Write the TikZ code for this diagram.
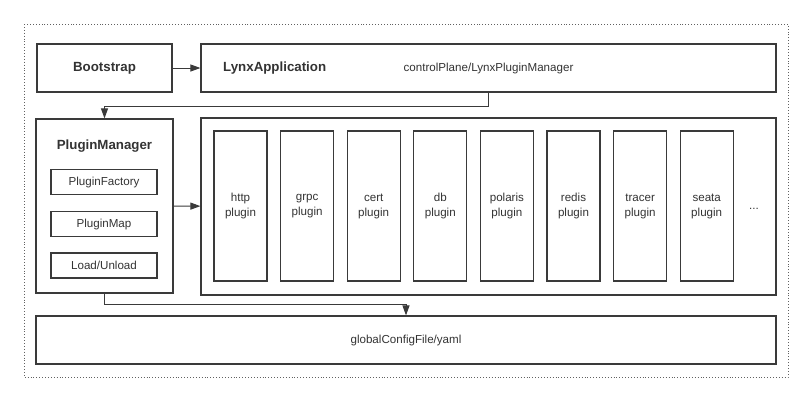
\documentclass[tikz,border=0pt]{standalone}
\usepackage{fontspec}
\setmainfont{Liberation Sans}
\usepackage{tikz}
\usetikzlibrary{arrows.meta,calc}
\definecolor{linegray}{HTML}{3A3A3A}
\definecolor{textgray}{HTML}{333333}
\tikzstyle{box}=[draw=linegray,line width=1.15pt,minimum height=48pt,inner sep=0pt,text=textgray,font=\fontsize{11.6}{13}\selectfont]
\tikzstyle{smallbox}=[draw=linegray,line width=1.15pt,minimum width=106pt,minimum height=25pt,inner sep=0pt,text=textgray,font=\fontsize{11.6}{13}\selectfont]
\tikzstyle{pluginbox}=[draw=linegray,line width=1.15pt,minimum width=53pt,minimum height=150pt,inner sep=0pt,align=center,text=textgray,font=\fontsize{11.6}{15}\selectfont]
\tikzstyle{title}=[text=textgray,inner sep=0pt,font=\fontsize{13.3}{15}\selectfont\bfseries]
\tikzstyle{edge} = [draw=linegray,line width=1pt,-{Triangle[length=10pt,width=7pt]}]

\begin{document}
\begin{tikzpicture}[x=1pt,y=-1pt]

    \useasboundingbox (0,0) rectangle (812,405);
    \draw[linegray!80,dotted,line width=0.9pt] (24,24) rectangle (788,377);

    \node[box, minimum width=135pt] (boot) at (104.5,68) {};
    \node[title] (bootlabel) at (boot.center) {Bootstrap};
    \node[box, minimum width=575pt] (app) at (488.5,68) {controlPlane/LynxPluginManager};
    \node[title, anchor=west] (lynx) at (223,68) {LynxApplication};

    \node[box, minimum width=137pt, minimum height=174pt] (pm) at (104.5,206) {};
    \node[title] (pmlabel) at (104.5,146) {PluginManager};

    \foreach \y/\name/\text in {182/factory/PluginFactory, 224/pmap/PluginMap, 265.5/load/Load\slash Unload}
        \node[smallbox] (\name) at (104,\y) {\text};

    \node[box, minimum width=575pt, minimum height=177pt] (plugins) at (488.5,206.5) {};

    \foreach \i/\name in {0/http, 1/grpc, 2/cert, 3/db, 4/polaris, 5/redis, 6/tracer, 7/seata}
        \node[pluginbox] (\name) at (240.5+66.6*\i,206) {\name\\plugin};
    \node[text=textgray, font=\fontsize{11.6}{13}\selectfont] (more) at (754,209) {...};

    \node[box, minimum width=740pt] (conf) at (406,340) {globalConfigFile/yaml};

    \path[edge] (boot) -- (app);
    \path[edge] (app.south) -- ++(0,14) -| (pm.north);
    \path[edge] (pm) -- (plugins);
    \path[edge] (pm.south) -- ++(0,11) -| (conf.north);

\end{tikzpicture}
\end{document}
